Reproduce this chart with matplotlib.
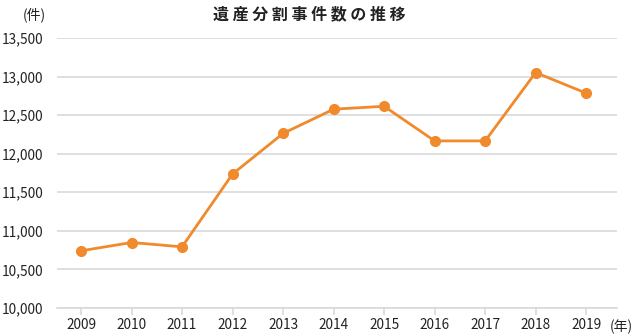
import matplotlib
matplotlib.use('Agg')
import matplotlib.pyplot as plt
from matplotlib.ticker import FuncFormatter

plt.rcParams['font.family'] = ['Noto Sans CJK JP', 'DejaVu Sans']

years = ['2009', '2010', '2011', '2012', '2013', '2014', '2015', '2016', '2017', '2018', '2019']
cases = [10741, 10849, 10793, 11737, 12263, 12577, 12615, 12166, 12166, 13052, 12785]
yticks = [10000, 10500, 11000, 11500, 12000, 12500, 13000, 13500]

orange = '#f08a2c'
grid = '#d9d9d9'

fig = plt.figure(figsize=(6.35, 3.35), dpi=100)
ax = fig.add_axes([57 / 635, 27 / 335, 560 / 635, 270 / 335])

x = range(len(years))
ax.plot(x, cases, color=orange, lw=2, marker='o', ms=7, zorder=3)

ax.set_xlim(-0.475, len(years) - 0.39)
ax.set_ylim(10000, 13500)
ax.set_yticks(yticks)
ax.yaxis.set_major_formatter(FuncFormatter(lambda v, p: f'{int(v):,}'))
ax.set_xticks(list(x))
ax.set_xticklabels(years)
ax.grid(axis='y', color=grid, lw=1.2)
ax.set_axisbelow(True)

for s in ['top', 'right', 'left']:
    ax.spines[s].set_visible(False)
ax.spines['bottom'].set_color(grid)
ax.spines['bottom'].set_linewidth(1.2)
ax.tick_params(axis='y', length=0, pad=10, labelsize=9.8, labelcolor='#222222')
ax.tick_params(axis='x', length=5, color=grid, width=1.2, pad=2, labelsize=9.8, labelcolor='#222222')

fig.text(309 / 635, 1 - 14 / 335, '遺 産 分 割 事 件 数 の 推 移', ha='center', va='center',
         fontsize=11.5, fontweight='bold', color='#222222')
fig.text(34 / 635, 1 - 15 / 335, '(件)', ha='center', va='center', fontsize=10, color='#222222')
fig.text(633 / 635, 1 - 327 / 335, '(年)', ha='right', va='center', fontsize=10, color='#222222')

fig.savefig('out.png', dpi=100, facecolor='white')
